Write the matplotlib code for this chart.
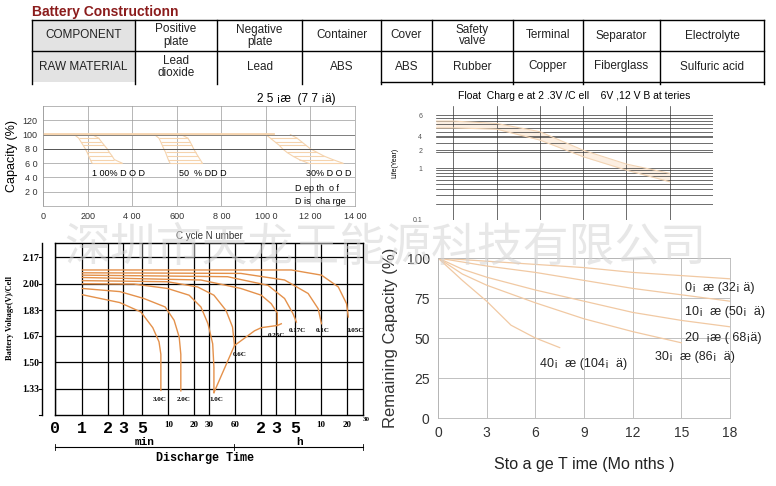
import matplotlib.pyplot as plt
from matplotlib.ticker import NullLocator
from matplotlib.transforms import blended_transform_factory

plt.rcParams['font.family'] = ['Liberation Sans', 'DejaVu Sans']

W, H = 776, 486

# ---- table data ----
row_heads = ['COMPONENT', 'RAW MATERIAL']
components = ['Positive\nplate', 'Negative\nplate', 'Container', 'Cover', 'Safety\nvalve',
              'Terminal', 'Separator', 'Electrolyte']
materials = ['Lead\ndioxide', 'Lead', 'ABS', 'ABS', 'Rubber', 'Copper', 'Fiberglass', 'Sulfuric acid']

# ---- capacity vs cycle number (25C) ----
cap_xticks = [0, 200, 400, 600, 800, 1000, 1200, 1400]
cap_xlabels = ['0', '200', '4 00', '600', '8 00', '100 0', '12 00', '14 00']
cap_yticks = [20, 40, 60, 80, 100, 120]
cap_ylabels = ['2 0', '4 0', '6 0', '8 0', '100', '120']
dod_levels = [95, 90, 85, 80, 75, 70, 65, 60]
dod100_left = [160, 170, 180, 190, 198, 205, 212, 220]
dod100_right = [250, 262, 275, 288, 298, 310, 320, 355]
dod50_left = [520, 528, 535, 542, 550, 556, 562, 570]
dod50_right = [650, 660, 668, 676, 685, 695, 705, 715]
dod30_left = [1020, 1040, 1060, 1075, 1095, 1120, 1150, 1190]
dod30_right = [1140, 1160, 1180, 1200, 1230, 1260, 1300, 1345]

# ---- float life vs temperature ----
life_temp = [18, 20, 25, 30, 35, 40, 45]
life_upper = [8.0, 8.0, 7.2, 5.0, 2.2, 1.19, 0.79]
life_lower = [5.9, 5.9, 5.6, 3.45, 1.65, 0.91, 0.545]
life_xgrid = [20, 25, 30, 35, 40, 45, 50]
life_yticks = [0.1, 1, 2.2, 4.1, 10.4]
life_ylabels = ['0.1', '1', '2', '4', '6']

# ---- discharge curves (time in minutes, volts per cell) ----
dis_t = {
    '3.0C': [1.0, 2.73, 4.8, 6.6, 7.8, 8.2, 8.2],
    '2.0C': [1.0, 2.73, 5.2, 9.2, 11.7, 13.4, 14.0, 14.0],
    '1.0C': [1.0, 4.0, 9.8, 17.5, 24, 29, 32.9, 34, 34],
    '0.6C': [1.0, 9.8, 21.9, 34, 47, 56, 59],
    '0.25C': [1.0, 24, 70, 121, 158, 186, 186],
    '0.17C': [1.0, 49, 145, 226, 283, 310],
    '0.1C': [1.0, 70, 226, 425, 556, 608],
    '0.05C': [1.0, 271, 608, 953, 1191, 1247],
}
dis_v = {
    '3.0C': [1.93, 1.88, 1.82, 1.72, 1.63, 1.55, 1.32],
    '2.0C': [1.97, 1.95, 1.906, 1.852, 1.767, 1.66, 1.55, 1.317],
    '1.0C': [2.00, 1.998, 1.97, 1.927, 1.852, 1.745, 1.617, 1.467, 1.306],
    '0.6C': [2.02, 2.013, 1.98, 1.927, 1.83, 1.724, 1.606],
    '0.25C': [2.04, 2.024, 1.97, 1.927, 1.873, 1.814, 1.734],
    '0.17C': [2.055, 2.045, 1.99, 1.906, 1.81, 1.756],
    '0.1C': [2.07, 2.066, 2.024, 1.938, 1.841, 1.745],
    '0.05C': [2.088, 2.088, 2.055, 1.98, 1.873, 1.788],
}
cut_t = [34, 59, 101, 121, 186, 207]
cut_v = [1.306, 1.606, 1.70, 1.72, 1.734, 1.745]
dis_label_pos = {'3.0C': (8.0, 1.26), '2.0C': (15, 1.26), '1.0C': (36, 1.26), '0.6C': (68, 1.55),
                 '0.25C': (180, 1.67), '0.17C': (320, 1.70), '0.1C': (620, 1.70), '0.05C': (1500, 1.70)}
time_ticks = [0.48, 1, 2, 3, 5, 10, 20, 30, 60, 120, 180, 300, 600, 1200]
time_labels = ['0', '1', '2', '3', '5', '10', '20', '30', '60', '2', '3', '5', '10', '20']
volt_ticks = [1.33, 1.50, 1.67, 1.83, 2.00, 2.17]

# ---- self discharge ----
months = {
    '0': [0, 3, 6, 9, 12, 15, 18],
    '10': [0, 3, 6, 9, 12, 15, 18],
    '20': [0, 1.5, 3, 6, 9, 12, 15, 18],
    '30': [0, 1.5, 3, 6, 9, 12, 15],
    '40': [0, 1.5, 3, 4.5, 6, 7.5],
}
remaining = {
    '0': [100, 98, 96, 94, 91, 89, 87],
    '10': [100, 95, 91, 86, 81, 77, 73],
    '20': [100, 93, 88, 80, 73, 66, 61, 57],
    '30': [100, 90, 83, 72, 62, 54, 47],
    '40': [100, 86, 73, 58, 50, 44],
}
temp_labels = {'0': '0¡  æ (32¡ ä)', '10': '10¡  æ (50¡  ä)', '20': '20  ¡æ ( 68¡ä)',
               '30': '30¡  æ (86¡  ä)', '40': '40¡  æ (104¡  ä)'}
temp_label_pos = {'0': (15.2, 81), '10': (15.2, 66), '20': (15.2, 50), '30': (13.4, 38), '40': (6.3, 34)}


fig = plt.figure(figsize=(W / 100, H / 100), dpi=100)


def px_axes(x0, y0, x1, y1):
    return fig.add_axes([x0 / W, 1 - y1 / H, (x1 - x0) / W, (y1 - y0) / H])


# ================= table (overlay in pixel coords) =================
ov = fig.add_axes([0, 0, 1, 1])
ov.set_xlim(0, W)
ov.set_ylim(H, 0)
ov.axis('off')
ov.set_zorder(5)
ov.patch.set_alpha(0)

ov.text(32, 12, 'Battery Constructionn', color='#8b1c1c', fontsize=10, fontweight='bold',
        va='center', ha='left')
edges = [32, 135, 217, 302, 381, 432, 513, 583, 660, 764]
rows_y = [20, 51, 82]
for r in range(2):
    ov.fill_between([edges[0], edges[1]], rows_y[r], rows_y[r + 1], color='#e3e3e3', lw=0)
for x in edges:
    ov.plot([x, x], [rows_y[0], rows_y[2] + 2], color='k', lw=1)
ov.plot([edges[0], edges[-1]], [rows_y[0]] * 2, color='k', lw=1)
ov.plot([edges[0], edges[-1]], [rows_y[1]] * 2, color='k', lw=1)
ov.plot([edges[4], edges[-1]], [rows_y[2]] * 2, color='k', lw=1)
cells = [[row_heads[0]] + components, [row_heads[1]] + materials]
for r, row in enumerate(cells):
    for c, txt in enumerate(row):
        ov.text((edges[c] + edges[c + 1]) / 2, (rows_y[r] + rows_y[r + 1]) / 2, txt,
                ha='center', va='center', fontsize=8.5, color='#222',
                family=['Liberation Sans Narrow', 'Liberation Sans'], linespacing=1.0)

# ================= capacity vs cycle =================
ax1 = px_axes(43, 106, 355, 206)
ax1.set_xlim(0, 1400)
ax1.set_ylim(0, 140)
band = '#f5d3ad'
ax1.plot([0, 1030], [101, 101], color=band, lw=2)
for left, right in [(dod100_left, dod100_right), (dod50_left, dod50_right), (dod30_left, dod30_right)]:
    ax1.plot([left[0] - 20] + left, [100] + dod_levels, color=band, lw=0.8)
    ax1.plot([right[0] - 30] + right, [100] + dod_levels, color=band, lw=0.8)
    ax1.hlines(dod_levels, left, right, color=band, lw=0.8)
ax1.set_xticks(cap_xticks)
ax1.set_xticklabels(cap_xlabels)
ax1.set_yticks(cap_yticks)
ax1.set_yticklabels(cap_ylabels)
ax1.tick_params(length=0, labelsize=6.5, labelcolor='#333', pad=4)
ax1.grid(color='#9a9a9a', lw=0.5)
ax1.axhline(80, color='#555', lw=0.7)
ax1.axhline(100, color='#777', lw=0.6)
for s in ax1.spines.values():
    s.set_color('#9a9a9a')
    s.set_linewidth(0.5)
ax1.set_ylabel('Capacity (%)', fontsize=9, labelpad=3)
ax1.text(220, 45, '1 00% D O D', fontsize=6.5, va='center')
ax1.text(610, 45, '50  % DD D', fontsize=6.5, va='center')
ax1.text(1180, 45, '30% D O D', fontsize=6.5, va='center')
ax1.text(1130, 25, 'D ep th  o f', fontsize=6.5, va='center')
ax1.text(1130, 7, 'D is  cha rge', fontsize=6.5, va='center')
ax1.text(960, 150, '2 5 ¡æ  (7 7 ¡ä)', fontsize=8.5, ha='left', va='center')

# ================= float life =================
ax2 = px_axes(436, 106, 713, 220)
ax2.set_yscale('log')
ax2.set_xlim(18, 50)
ax2.set_ylim(0.1, 15.6)
ax2.fill_between(life_temp, life_lower, life_upper, color='#fcefe2', lw=0)
ax2.plot(life_temp, life_upper, color='#f2d4b4', lw=0.8)
ax2.plot(life_temp, life_lower, color='#f2d4b4', lw=0.8)
ax2.set_xticks(life_xgrid)
ax2.tick_params(axis='x', labelbottom=False, length=0)
ax2.set_yticks(life_yticks)
ax2.set_yticklabels(life_ylabels)
ax2.tick_params(axis='y', which='both', length=0, labelsize=5, labelcolor='#555', pad=10)
ax2.grid(which='both', color='#333', lw=0.5)
for s in ax2.spines.values():
    s.set_visible(False)
ax2.set_ylabel('Life(Year)', fontsize=5, labelpad=10)
ax2.text(0.5, 1.04, 'Float  Charg e at 2 .3V /C ell    6V ,12 V B at teries', transform=ax2.transAxes,
         ha='center', va='bottom', fontsize=7.5)

# ================= discharge curves =================
ax3 = px_axes(55, 243, 363, 415)
ax3.set_xscale('log')
ax3.set_xlim(0.48, 1850)
ax3.set_ylim(1.163, 2.26)
dis_col = '#e4914b'
for k in dis_t:
    ax3.plot(dis_t[k], dis_v[k], color=dis_col, lw=1.0)
    ax3.text(*dis_label_pos[k], k, fontsize=5, fontweight='bold', family='Liberation Serif',
             ha='center', va='center')
ax3.plot(cut_t, cut_v, color=dis_col, lw=1.0)
ax3.set_xticks(time_ticks)
ax3.xaxis.set_minor_locator(NullLocator())
ax3.set_xticklabels(time_labels)
for lab, txt in zip(ax3.get_xticklabels(), time_labels):
    if len(txt) == 1:
        lab.set_fontsize(12)
        lab.set_family('Liberation Mono')
    else:
        lab.set_fontsize(6.5)
        lab.set_family('Liberation Serif')
    lab.set_fontweight('bold')
ax3.set_yticks(volt_ticks)
ax3.set_yticklabels(['%.2f' % v for v in volt_ticks])
ax3.tick_params(axis='y', length=0, labelsize=7, pad=11)
ax3.tick_params(axis='x', length=0, pad=4)
for lab in ax3.get_yticklabels():
    lab.set_family('Liberation Serif')
    lab.set_fontweight('bold')
ax3.grid(color='k', lw=0.9)
for s in ax3.spines.values():
    s.set_linewidth(1.0)
tr = blended_transform_factory(ax3.transAxes, ax3.transData)
ax3.plot([-0.042, -0.042], [1.163, 2.26], transform=tr, color='k', lw=1, clip_on=False)
for v in volt_ticks + [1.163]:
    ax3.plot([-0.052, -0.042], [v, v], transform=tr, color='k', lw=0.8, clip_on=False)
ax3.text(1.0, -0.01, '30', transform=ax3.transAxes, fontsize=5, fontweight='bold',
         family='Liberation Serif', ha='left', va='top')
ax3.text(0.5, 1.01, 'C ycle N umber', transform=ax3.transAxes, ha='center', va='bottom',
         fontsize=7, color='#333')

ov.plot([55, 234], [447, 447], color='k', lw=0.8)
ov.plot([234, 363], [447, 447], color='k', lw=0.8)
for x in [55, 234, 363]:
    ov.plot([x, x], [444, 450], color='k', lw=0.6)
ov.text(145, 447, 'min', fontsize=8, fontweight='bold', family='Liberation Mono', ha='center', va='bottom')
ov.text(300, 447, 'h', fontsize=8, fontweight='bold', family='Liberation Mono', ha='center', va='bottom')
ov.text(205, 458, 'Discharge Time', fontsize=8.5, fontweight='bold', family='Liberation Mono',
        ha='center', va='center')
ov.text(10, 318, 'Battery Voltage(V)/Cell', fontsize=6, fontweight='bold', family='Liberation Serif',
        rotation=90, ha='center', va='center')

# ================= self discharge =================
ax4 = px_axes(438, 258, 730, 418)
ax4.set_xlim(0, 18)
ax4.set_ylim(0, 100)
for k in months:
    ax4.plot(months[k], remaining[k], color='#f1c9a3', lw=0.9)
    ax4.text(*temp_label_pos[k], temp_labels[k], fontsize=9, color='#222', va='center')
ax4.set_xticks([0, 3, 6, 9, 12, 15, 18])
ax4.set_yticks([0, 25, 50, 75, 100])
ax4.tick_params(length=0, labelsize=10, labelcolor='#333', pad=6)
ax4.grid(color='#b5b5b5', lw=0.6)
for s in ax4.spines.values():
    s.set_color('#b5b5b5')
    s.set_linewidth(0.6)
ax4.set_ylabel('Remaining Capacity (%)', fontsize=12, color='#333', labelpad=6)
ax4.set_xlabel('Sto a ge T ime (Mo nths )', fontsize=11.5, color='#222', labelpad=12)

# ================= watermark =================
ov.text(385, 248, '深圳市天龙王能源科技有限公司', family=['Noto Sans CJK SC', 'DejaVu Sans'],
        fontsize=33, color='#d4d4d4', alpha=0.55, ha='center', va='center', zorder=20)

plt.savefig('out.png', dpi=100)
